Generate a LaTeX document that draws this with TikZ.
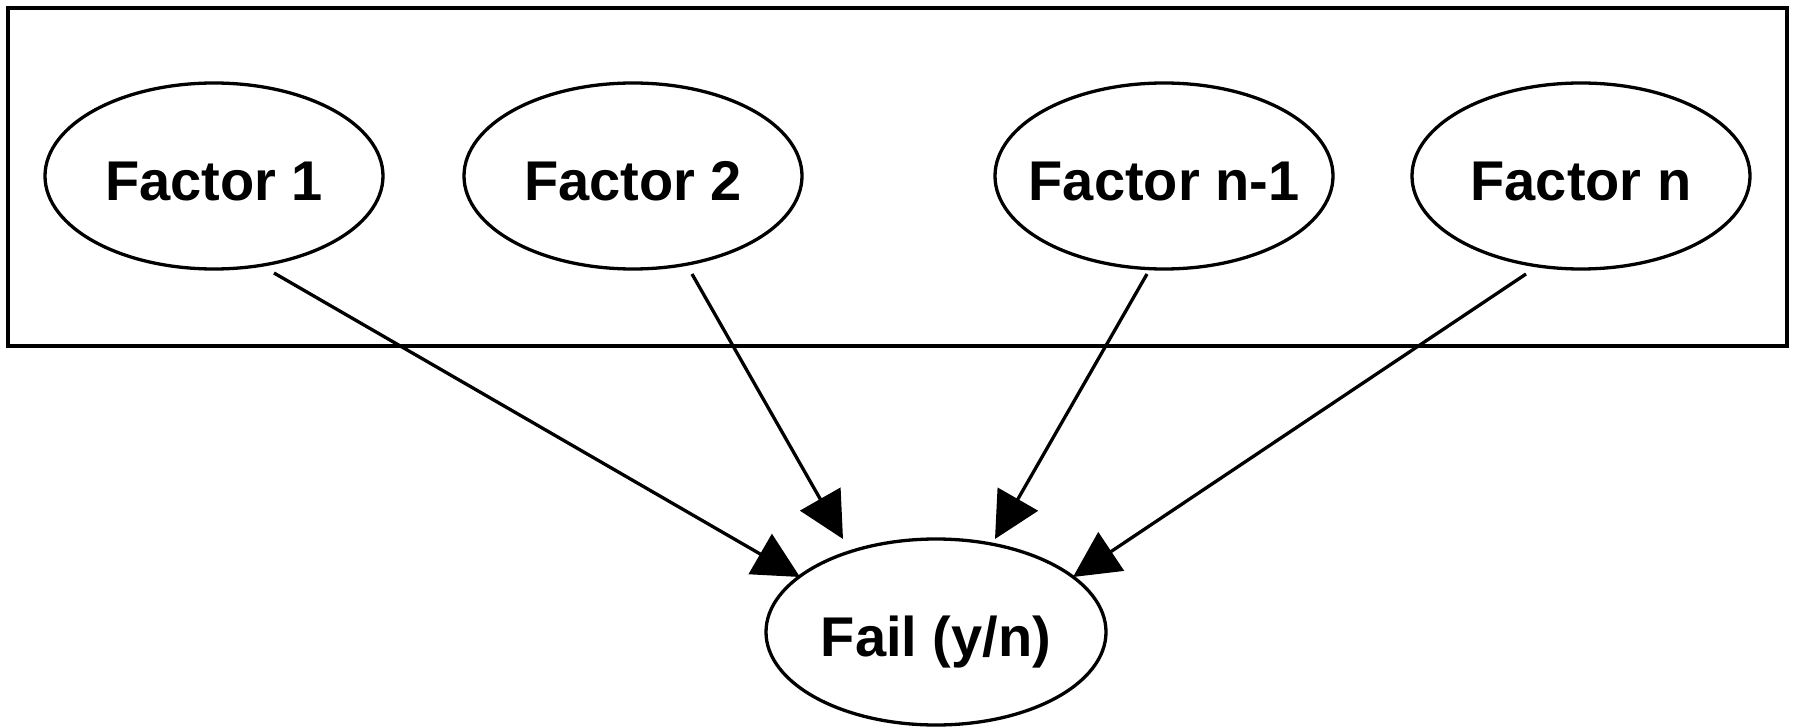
\documentclass[tikz,border=0pt]{standalone}
\usepackage{fontspec}
\setmainfont{Liberation Sans}
\usetikzlibrary{shapes.geometric,arrows.meta,calc}

\begin{document}
\begin{tikzpicture}[x=1pt,y=-1pt,
  factor/.style={ellipse,draw,line width=3.3pt,minimum width=338pt,minimum height=186pt,
    inner xsep=-40pt,inner ysep=0pt,outer sep=0pt,text height=49pt,text depth=0pt,
    font=\fontsize{56}{60}\selectfont\bfseries},
  link/.style={line width=3.3pt,-{Triangle[length=46pt,width=46pt]}}]
  \useasboundingbox (0,0) rectangle (1794,727);

  % frame around the factor nodes
  \draw[line width=3.6pt] (8,8) rectangle (1787,346);

  % factor nodes
  \node[factor] (f1)  at (214,176) {Factor 1};
  \node[factor] (f2)  at (633,176) {Factor 2};
  \node[factor] (fn1) at (1164,176) {Factor n-1};
  \node[factor] (fn)  at (1581,176) {Factor n};

  % outcome node
  \node[factor,minimum width=340pt] (fail) at (936,632) {Fail (y/n)};

  % influences
  \draw[link] ($(f1.center)+(60,97)$)   -- ($(fail.center)+(-136,-55)$);
  \draw[link] ($(f2.center)+(59,98)$)   -- ($(fail.center)+(-93,-93)$);
  \draw[link] ($(fn1.center)+(-17,98)$) -- ($(fail.center)+(59,-93)$);
  \draw[link] ($(fn.center)+(-55,98)$)  -- ($(fail.center)+(137,-55)$);
\end{tikzpicture}
\end{document}
